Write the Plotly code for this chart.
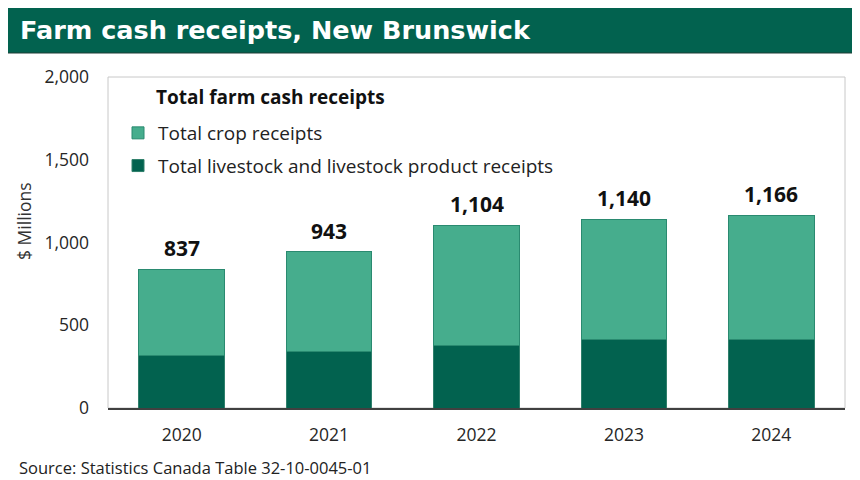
import plotly.graph_objects as go

# Values in $ millions
years = ["2020", "2021", "2022", "2023", "2024"]
totals = [837, 943, 1104, 1140, 1166]
livestock = [317, 343, 376, 412, 412]
crops = [t - l for t, l in zip(totals, livestock)]
total_labels = [f"{v:,}" for v in totals]

DARK = "#02624F"
LIGHT = "#46AD8D"
FONT = "Open Sans"

# the page adds an 8px body margin, so work in page pixels and shift back
OFF = 8
W, H = 852, 472
L, R, T, B = 108 - OFF, 15, 77 - OFF, 72
PW, PH = W - L - R, H - T - B


def px_x(x):
    return (x - OFF - L) / PW


def px_y(y):
    return (H - B - (y - OFF)) / PH


fig = go.Figure()
fig.add_trace(go.Bar(
    x=years, y=livestock, name="Total livestock and livestock product receipts",
    marker=dict(color=DARK, line=dict(color="#2f7f6b", width=1)),
    legendgroup="b", legendrank=2, hoverinfo="skip",
))
fig.add_trace(go.Bar(
    x=years, y=crops, name="Total crop receipts",
    marker=dict(color=LIGHT, line=dict(color="#2a8a70", width=1)),
    legendgroup="a", legendrank=1, hoverinfo="skip",
))

# total labels above each stack (category index positions)
for i, (tot, lab) in enumerate(zip(totals, total_labels)):
    fig.add_annotation(x=i, y=tot, text=lab, showarrow=False, yanchor="bottom", yshift=5,
                       font=dict(family=FONT, size=21, color="#111111", weight="bold"))

# header bar and outer frame
fig.add_shape(type="rect", xref="paper", yref="paper",
              x0=px_x(7), x1=px_x(857), y0=px_y(53), y1=px_y(5),
              fillcolor=DARK, line=dict(color="#1e3d36", width=1), layer="below")
for xx in (7, 857):
    fig.add_shape(type="line", xref="paper", yref="paper",
                  x0=px_x(xx), x1=px_x(xx), y0=px_y(53), y1=px_y(490),
                  line=dict(color="#8c8c8c", width=2))
# plot area box
fig.add_shape(type="rect", xref="paper", yref="paper", x0=0, x1=1, y0=0, y1=1,
              line=dict(color="#c8c8c8", width=1), layer="below")

fig.add_annotation(text="Farm cash receipts, New Brunswick", xref="paper", yref="paper",
                   x=px_x(18), y=px_y(30), xanchor="left", yanchor="middle", showarrow=False,
                   font=dict(family="DejaVu Sans", size=25.5, color="white", weight="bold"))
fig.add_annotation(text="Source: Statistics Canada Table 32-10-0045-01", xref="paper", yref="paper",
                   x=px_x(17), y=px_y(467), xanchor="left", yanchor="middle", showarrow=False,
                   font=dict(family=FONT, size=16.5, color="#222222"))
fig.add_annotation(text="$ Millions", xref="paper", yref="paper", textangle=-90,
                   x=px_x(24), y=px_y(221), xanchor="center", yanchor="middle", showarrow=False,
                   font=dict(family=FONT, size=17.5, color="#333333"))
fig.add_annotation(text="<b>Total farm cash receipts</b>", xref="paper", yref="paper",
                   x=px_x(154), y=px_y(97), xanchor="left", yanchor="middle", showarrow=False,
                   font=dict(family=FONT, size=19, color="#111111"))

fig.update_layout(
    width=W, height=H,
    margin=dict(l=L, r=R, t=T, b=B),
    barmode="stack", bargap=0.42,
    paper_bgcolor="white", plot_bgcolor="rgba(0,0,0,0)",
    font=dict(family=FONT, color="#333333"),
    legend=dict(
        x=px_x(118), y=px_y(114), xanchor="left", yanchor="top",
        font=dict(size=19, color="#222222"), bgcolor="rgba(0,0,0,0)",
        itemwidth=30, traceorder="grouped", tracegroupgap=5,
    ),
)
fig.update_xaxes(type="category", showline=True, linecolor="#404040", linewidth=2, ticks="",
                 ticklabelstandoff=10, tickfont=dict(size=17.5, color="#262626"))
fig.update_yaxes(range=[0, 2000], tickvals=[0, 500, 1000, 1500, 2000], tickformat=",",
                 showgrid=False, zeroline=False, ticks="", ticklabelstandoff=18,
                 tickfont=dict(size=17.5, color="#262626"))

fig.write_html("out.html")
